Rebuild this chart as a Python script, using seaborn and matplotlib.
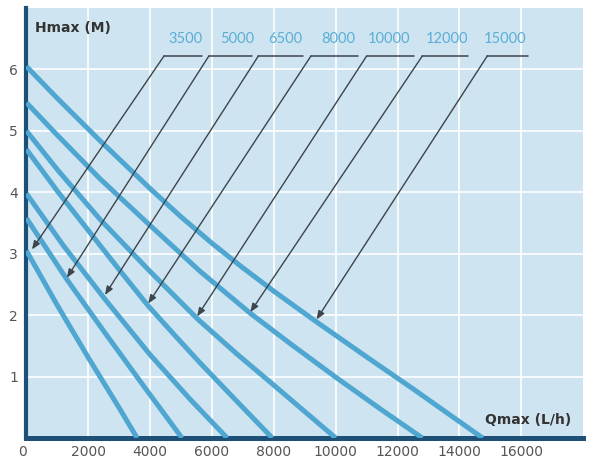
import matplotlib
matplotlib.use('Agg')
import matplotlib.pyplot as plt
import seaborn as sns

# pump curves: flow (L/h) vs head (m)
models = ['3500', '5000', '6500', '8000', '10000', '12000', '15000']

q_3500 = [0, 1000, 2000, 3000, 3580]
h_3500 = [3.05, 2.16, 1.31, 0.49, 0]

q_5000 = [0, 1310, 2500, 3800, 5030]
h_5000 = [3.58, 2.58, 1.74, 0.84, 0]

q_6500 = [0, 1200, 2540, 4000, 5300, 6490]
h_6500 = [3.98, 3.13, 2.26, 1.355, 0.627, 0]

q_8000 = [0, 1000, 2000, 3000, 3940, 4800, 5620, 6800, 7950]
h_8000 = [4.70, 4.02, 3.38, 2.74, 2.15, 1.67, 1.22, 0.60, 0]

q_10000 = [0, 1000, 2380, 4000, 5550, 6800, 8000, 9000, 10000]
h_10000 = [5.00, 4.37, 3.56, 2.71, 1.93, 1.37, 0.86, 0.43, 0]

q_12000 = [0, 1000, 2380, 4000, 5600, 7240, 8600, 10000, 11450, 12800]
h_12000 = [5.46, 4.93, 4.22, 3.46, 2.72, 2.03, 1.51, 0.99, 0.47, 0]

q_15000 = [0, 1000, 2380, 4000, 5000, 6000, 7000, 8000, 9350, 11000, 12500, 14750]
h_15000 = [6.05, 5.53, 4.84, 4.06, 3.60, 3.17, 2.77, 2.39, 1.90, 1.32, 0.80, 0]

curves = {
    '3500': (q_3500, h_3500),
    '5000': (q_5000, h_5000),
    '6500': (q_6500, h_6500),
    '8000': (q_8000, h_8000),
    '10000': (q_10000, h_10000),
    '12000': (q_12000, h_12000),
    '15000': (q_15000, h_15000),
}

# callout labels: label centre, corner of the leader line, end of underline, arrow tip
label_x = [5140, 6820, 8380, 10090, 11710, 13590, 15470]
corner_x = [4450, 5900, 7500, 9200, 11000, 12800, 14900]
line_end_x = [5690, 7280, 8930, 10710, 12520, 14270, 16220]
tip_x = [180, 1310, 2540, 3940, 5520, 7240, 9380]
tip_y = [3.07, 2.61, 2.33, 2.19, 1.98, 2.05, 1.93]

x_ticks = [0, 2000, 4000, 6000, 8000, 10000, 12000, 14000, 16000]
y_ticks = [1, 2, 3, 4, 5, 6]

sns.set_style('white')
plt.rcParams['font.family'] = ['DejaVu Sans']

curve_color = '#4fa6d0'
arrow_color = '#3c444c'
label_color = '#5aaed6'
spine_color = '#1d4f77'

fig, ax = plt.subplots(figsize=(6, 4.72), dpi=100)
fig.subplots_adjust(left=0.044, right=0.972, bottom=0.072, top=0.983)
ax.set_facecolor('#cfe4f1')

for name in models:
    q, h = curves[name]
    sns.lineplot(x=q, y=h, ax=ax, color=curve_color, lw=3.6,
                 estimator=None, solid_capstyle='butt', zorder=3)

line_y = 6.22
for i, name in enumerate(models):
    ax.plot([corner_x[i], line_end_x[i]], [line_y, line_y],
            color=arrow_color, lw=1.1, zorder=4)
    ax.annotate('', xy=(tip_x[i], tip_y[i]), xytext=(corner_x[i], line_y),
                arrowprops=dict(arrowstyle='-|>,head_length=0.5,head_width=0.2',
                                color=arrow_color, lw=1.0, shrinkA=0, shrinkB=0),
                zorder=4)
    ax.text(label_x[i], 6.49, name, ha='center', va='center',
            color=label_color, fontsize=10.5, family='Lato')

ax.set_xlim(0, 18000)
ax.set_ylim(0, 7)
ax.set_xticks(x_ticks)
ax.set_xticklabels([str(t) for t in x_ticks])
ax.set_yticks(y_ticks)
ax.grid(True, color='white', lw=1.2, zorder=0)
ax.set_axisbelow(True)
ax.tick_params(length=0, labelsize=10, labelcolor='#555555')
ax.tick_params(axis='x', pad=5)
ax.tick_params(axis='y', pad=6)
ax.get_xticklabels()[0].set_horizontalalignment('right')
ax.set_xlabel('')
ax.set_ylabel('')

sns.despine(ax=ax)
ax.spines['left'].set_color(spine_color)
ax.spines['left'].set_linewidth(3.0)
ax.spines['bottom'].set_color(spine_color)
ax.spines['bottom'].set_linewidth(3.6)

ax.text(280, 6.67, 'Hmax (M)', ha='left', va='center', fontsize=10,
        fontweight='bold', color='#333333')
ax.text(17600, 0.29, 'Qmax (L/h)', ha='right', va='center', fontsize=10,
        fontweight='bold', color='#333333')

fig.savefig('out.png', dpi=100)
